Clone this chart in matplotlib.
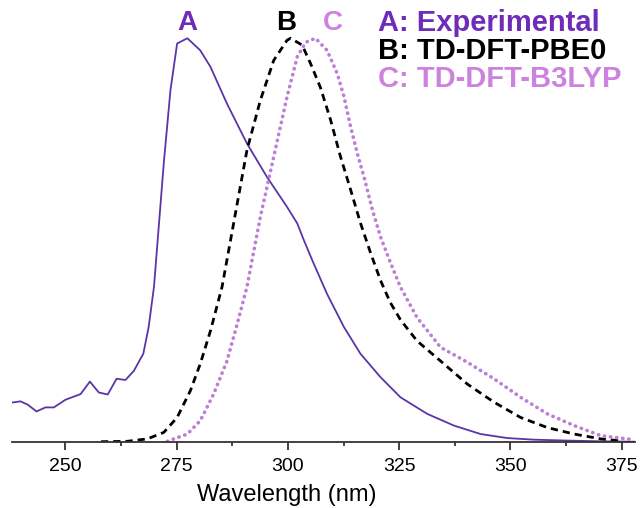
import numpy as np
import matplotlib
matplotlib.use('Agg')
from matplotlib import pyplot as plt

# A: experimental spectrum (normalised absorbance)
wl_exp = [238.0, 239.9, 241.5, 243.5, 245.5, 247.4, 250.0, 253.4, 255.5, 257.5,
          259.5, 261.5, 263.5, 265.4, 267.5, 268.7, 269.9, 272.1, 273.6,
          275.1, 277.4, 280.3, 282.6, 286.3, 290.8, 295.3, 299.8, 302.1,
          303.6, 305.5, 308.8, 312.6, 316.3, 320.8, 325.3, 331.3, 337.3, 343.3,
          349.3, 355.3, 362.0, 370.0, 378.0]
abs_exp = [0.097, 0.100, 0.092, 0.075, 0.085, 0.085, 0.104, 0.118, 0.149, 0.122,
           0.117, 0.156, 0.153, 0.176, 0.218, 0.284, 0.384, 0.690, 0.871,
           0.987, 1.000, 0.970, 0.929, 0.838, 0.739, 0.656, 0.582, 0.541,
           0.499, 0.449, 0.366, 0.284, 0.218, 0.160, 0.110, 0.069, 0.040, 0.019,
           0.009, 0.005, 0.003, 0.001, 0.000]

# B: TD-DFT-PBE0
wl_pbe0 = [258.0, 263.9, 268.4, 272.1, 275.1, 278.1, 280.3, 282.6, 285.2, 288.6,
           290.8, 293.8, 296.8, 299.8, 300.6, 303.2, 305.1, 307.3, 309.6, 311.8,
           314.1, 316.3, 318.6, 320.8, 323.0, 325.3, 329.0, 334.3, 340.3, 346.3,
           352.3, 358.3, 364.3, 370.3, 374.8]
abs_pbe0 = [0.000, 0.001, 0.007, 0.023, 0.060, 0.127, 0.193, 0.275, 0.384, 0.590,
            0.723, 0.846, 0.945, 0.995, 1.000, 0.983, 0.937, 0.878, 0.797, 0.707,
            0.624, 0.542, 0.467, 0.400, 0.345, 0.302, 0.250, 0.200, 0.143, 0.098,
            0.060, 0.035, 0.019, 0.007, 0.002]

# C: TD-DFT-B3LYP
wl_b3lyp = [272.9, 277.4, 280.3, 283.3, 286.3, 288.6, 290.8, 293.8, 296.8, 299.8,
            302.1, 304.0, 306.2, 308.8, 311.1, 312.6, 314.1, 315.6, 317.1, 319.0,
            320.8, 323.1, 325.3, 329.0, 334.3, 340.3, 346.3, 352.3, 358.3, 364.3,
            370.3, 377.7]
abs_b3lyp = [0.001, 0.019, 0.052, 0.118, 0.200, 0.292, 0.384, 0.557, 0.706, 0.855,
             0.954, 0.990, 1.000, 0.970, 0.912, 0.855, 0.780, 0.714, 0.656, 0.574,
             0.508, 0.442, 0.383, 0.308, 0.234, 0.197, 0.156, 0.110, 0.069, 0.040,
             0.015, 0.005]

col_a_line = '#5a35a8'
col_a_text = '#6e2cb8'
col_b = '#000000'
col_c_line = '#bb7fd4'
col_c_text = '#cc82de'

plt.rcParams['font.family'] = ['Liberation Sans', 'DejaVu Sans']

fig = plt.figure(figsize=(6.43, 5.08), dpi=100)
ax = fig.add_axes([0.0187, 0.1305, 0.9689, 0.8339])

ax.plot(wl_exp, abs_exp, color=col_a_line, lw=1.3)
ax.plot(wl_pbe0, abs_pbe0, color=col_b, lw=2.0, dashes=(2.6, 1.8))
ax.plot(wl_b3lyp, abs_b3lyp, color=col_c_line, lw=2.6, linestyle=(0, (0.1, 1.6)),
        dash_capstyle='round')

ax.set_xlim(238, 378)
ax.set_ylim(0, 1.05)
ax.set_yticks([])
for s in ['left', 'right', 'top']:
    ax.spines[s].set_visible(False)
ax.spines['bottom'].set_linewidth(1.3)
ax.spines['bottom'].set_color('#333333')

ax.set_xticks([250, 275, 300, 325, 350, 375])
ax.set_xticks([262.5, 287.5, 312.5, 337.5, 362.5], minor=True)
ax.tick_params(axis='x', which='major', length=6, width=1.3, labelsize=14,
               color='#333333', pad=6)
ax.tick_params(axis='x', which='minor', length=3, width=1.3, color='#333333')
ax.set_xlabel('Wavelength (nm)', fontsize=17)
ax.xaxis.set_label_coords(0.441, -0.101)

# curve letters above the peaks
ax.text(277.4, 1.038, 'A', color=col_a_text, fontsize=20, fontweight='bold',
        ha='center', va='center', clip_on=False)
ax.text(299.5, 1.038, 'B', color=col_b, fontsize=20, fontweight='bold',
        ha='center', va='center', clip_on=False)
ax.text(310.0, 1.038, 'C', color=col_c_text, fontsize=20, fontweight='bold',
        ha='center', va='center', clip_on=False)

# legend written as text
ax.text(320.2, 1.038, 'A: Experimental', color=col_a_text, fontsize=21,
        fontweight='bold', ha='left', va='center', clip_on=False)
ax.text(320.2, 0.968, 'B: TD-DFT-PBE0', color=col_b, fontsize=21,
        fontweight='bold', ha='left', va='center', clip_on=False)
ax.text(320.2, 0.900, 'C: TD-DFT-B3LYP', color=col_c_text, fontsize=21,
        fontweight='bold', ha='left', va='center', clip_on=False)

plt.savefig('out.png', dpi=100)
